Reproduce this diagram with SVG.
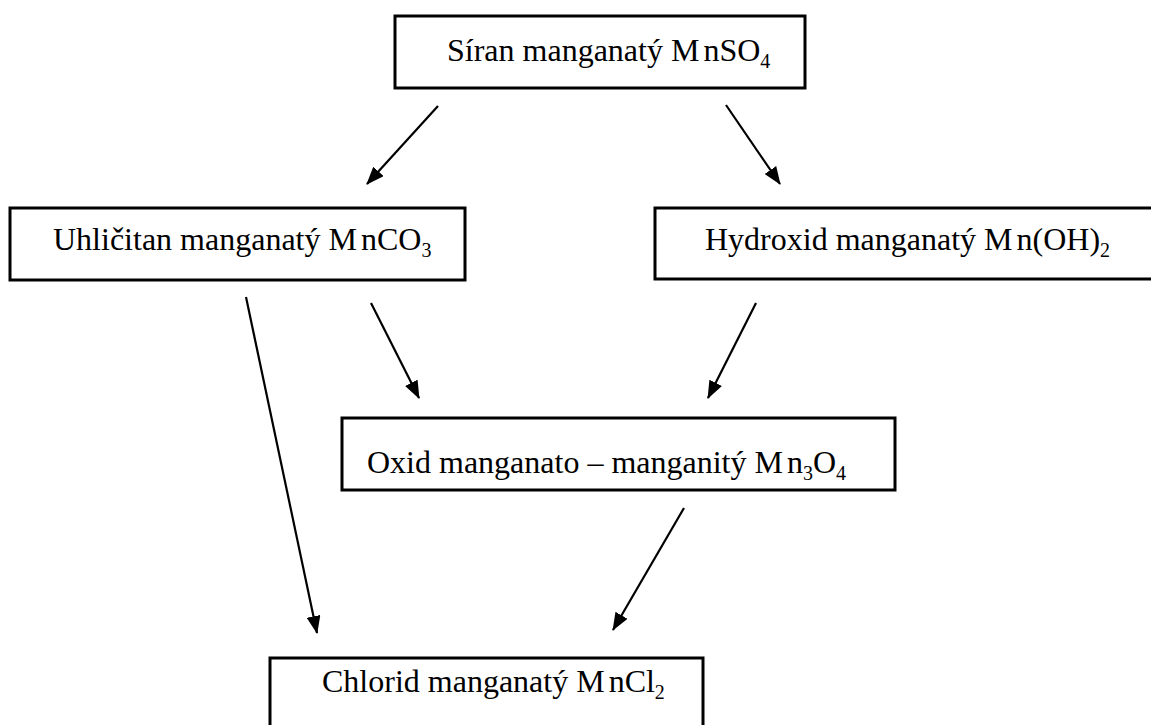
<svg xmlns="http://www.w3.org/2000/svg" width="1151" height="725" viewBox="0 0 1151 725">
<style>
.box{fill:#fff;stroke:#000;stroke-width:3}
.t{font-family:"Liberation Serif","Times New Roman",serif;font-size:32px;fill:#000}
.s{font-size:20px}
.c{stroke:#000;stroke-width:2.2;fill:none}
</style>
<defs>
<marker id="ah" viewBox="0 0 18 14" refX="17" refY="7" markerWidth="18" markerHeight="14" orient="auto" markerUnits="userSpaceOnUse">
<path d="M0,0 L18,7 L0,14 z" fill="#000"/>
</marker>
</defs>
<rect width="1151" height="725" fill="#fff"/>
<g id="connectors">
<line class="c" x1="438" y1="106" x2="367" y2="184" marker-end="url(#ah)"/>
<line class="c" x1="726" y1="105" x2="780" y2="184" marker-end="url(#ah)"/>
<line class="c" x1="246" y1="297" x2="317" y2="633" marker-end="url(#ah)"/>
<line class="c" x1="371" y1="303" x2="419" y2="398" marker-end="url(#ah)"/>
<line class="c" x1="756" y1="303" x2="708" y2="398" marker-end="url(#ah)"/>
<line class="c" x1="684" y1="508" x2="613" y2="630" marker-end="url(#ah)"/>
</g>
<g id="n-siran">
<rect class="box" x="395" y="16" width="410" height="72"/>
<text class="t" x="447" y="61">Síran manganatý  M<tspan dx="4">nSO</tspan><tspan class="s" dy="7">4</tspan></text>
</g>
<g id="n-uhlicitan">
<rect class="box" x="10" y="208" width="455" height="72"/>
<text class="t" x="53" y="250">Uhličitan manganatý  M<tspan dx="4">nCO</tspan><tspan class="s" dy="7">3</tspan></text>
</g>
<g id="n-hydroxid">
<rect class="box" x="655" y="208" width="500" height="71"/>
<text class="t" x="705" y="250">Hydroxid manganatý  M<tspan dx="4">n(OH)</tspan><tspan class="s" dy="7">2</tspan></text>
</g>
<g id="n-oxid">
<rect class="box" x="342" y="418" width="553" height="72"/>
<text class="t" x="367" y="473">Oxid manganato – manganitý  M<tspan dx="4">n</tspan><tspan class="s" dy="7">3</tspan><tspan dy="-7">O</tspan><tspan class="s" dy="7">4</tspan></text>
</g>
<g id="n-chlorid">
<rect class="box" x="270" y="658" width="433" height="80"/>
<text class="t" x="322" y="692">Chlorid manganatý  M<tspan dx="4">nCl</tspan><tspan class="s" dy="7">2</tspan></text>
</g>
</svg>
